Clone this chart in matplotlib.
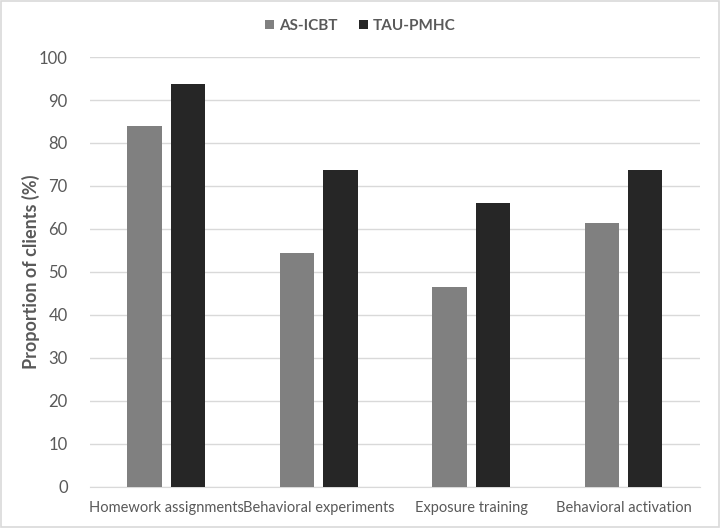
import numpy as np
import matplotlib.pyplot as plt

categories = ["Homework assignments", "Behavioral experiments", "Exposure training", "Behavioral activation"]
as_icbt = [84.0, 54.5, 46.5, 61.3]
tau_pmhc = [93.8, 73.8, 66.1, 73.8]
yticks = [0, 10, 20, 30, 40, 50, 60, 70, 80, 90, 100]

plt.rcParams['font.family'] = ['Lato', 'DejaVu Sans']

fig = plt.figure(figsize=(7.2, 5.28), dpi=100)
ax = fig.add_axes([0.125, 0.078, 0.847, 0.814])

x = np.arange(len(categories))
w = 0.225
ax.bar(x - w / 2 - 0.03, as_icbt, w, color="#808080", label="AS-ICBT", zorder=3)
ax.bar(x + w / 2 + 0.03, tau_pmhc, w, color="#262626", label="TAU-PMHC", zorder=3)

ax.set_xlim(-0.5, len(categories) - 0.5)
ax.set_ylim(0, 100)
ax.set_yticks(yticks)
ax.set_xticks(x)
ax.set_xticklabels(categories)
ax.tick_params(axis="both", length=0, labelsize=10.5, colors="#595959")
ax.tick_params(axis="y", labelsize=12, pad=16)
ax.tick_params(axis="x", pad=10)
ax.grid(axis="y", color="#d9d9d9", linewidth=1, zorder=0)
for s in ["top", "right", "left"]:
    ax.spines[s].set_visible(False)
ax.spines["bottom"].set_color("#d9d9d9")

ax.set_ylabel("Proportion of clients (%)", fontsize=13, fontweight="bold", color="#595959", labelpad=-1)

leg = fig.legend(loc="upper center", bbox_to_anchor=(0.5, 0.99), ncol=2, frameon=False,
                 fontsize=11, handlelength=0.6, handleheight=0.6, columnspacing=1.4, handletextpad=0.3)
for t in leg.get_texts():
    t.set_color("#595959")
    t.set_fontweight("bold")

fig.patches.append(plt.Rectangle((0.002, 0.002), 0.996, 0.996, transform=fig.transFigure,
                                 fill=False, edgecolor="#d9d9d9", linewidth=1.2))

fig.savefig("out.png", dpi=100)
